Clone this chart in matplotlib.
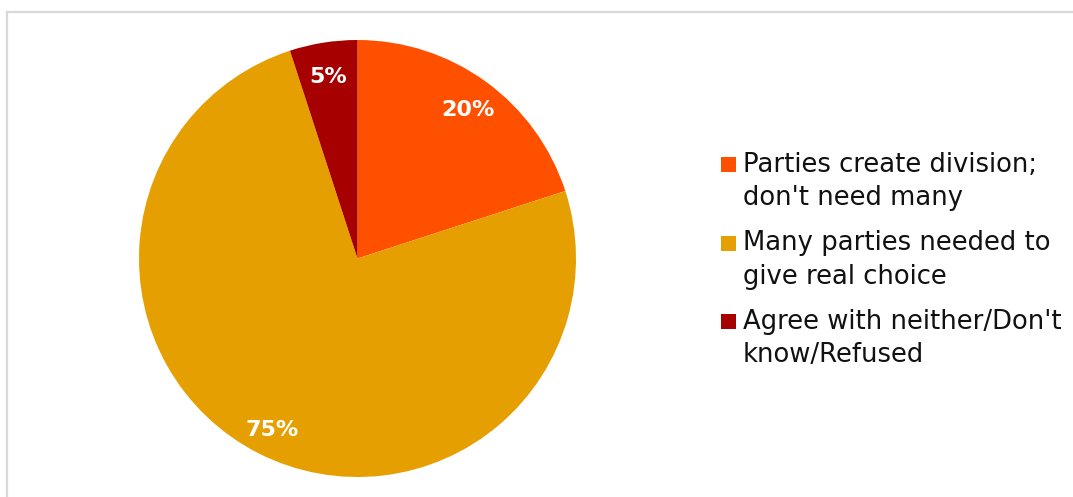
import matplotlib.pyplot as plt
from matplotlib.lines import Line2D
from matplotlib.patches import Rectangle

labels = ["Parties create division;\ndon't need many",
          "Many parties needed to\ngive real choice",
          "Agree with neither/Don't\nknow/Refused"]
shares = [20, 75, 5]
colors = ["#FF5000", "#E69F00", "#A60000"]

W, H = 1073, 497
fig = plt.figure(figsize=(W / 100, H / 100), dpi=100)

# pie axes: centre (357.5, 258.5) px, radius 218.5 px
r = 218.5
ax = fig.add_axes([(357.5 - r) / W, (H - 258.5 - r) / H, 2 * r / W, 2 * r / H])
wedges, texts, autotexts = ax.pie(
    shares, colors=colors, startangle=90, counterclock=False,
    autopct="%d%%", pctdistance=0.86, radius=1,
    wedgeprops=dict(linewidth=0),
    textprops=dict(color="white", fontsize=16, fontweight="bold"))
for t in autotexts:
    x, y = t.get_position()
    t.set_position((x, y - 4 / r))
ax.set_xlim(-1, 1)
ax.set_ylim(-1, 1)
ax.set_aspect("equal")
ax.axis("off")

# light frame, open to the right and bottom
fx, fy = 7 / W, 1 - 12 / H
fig.add_artist(Line2D([fx, 1.01], [fy, fy], color="#d9d9d9", lw=1.6, transform=fig.transFigure))
fig.add_artist(Line2D([fx, fx], [fy, -0.01], color="#d9d9d9", lw=1.6, transform=fig.transFigure))

# legend: square key beside the first line of each label
for i, (lab, c) in enumerate(zip(labels, colors)):
    base = 172 + i * 78.5
    fig.add_artist(Rectangle((721 / W, 1 - base / H), 15 / W, 15 / H,
                             facecolor=c, edgecolor="none", transform=fig.transFigure))
    for j, line in enumerate(lab.split("\n")):
        fig.text(743 / W, 1 - (base + 33 * j) / H, line, fontsize=18.6,
                 va="baseline", ha="left", color="#111111")

fig.savefig("out.png", dpi=100)
